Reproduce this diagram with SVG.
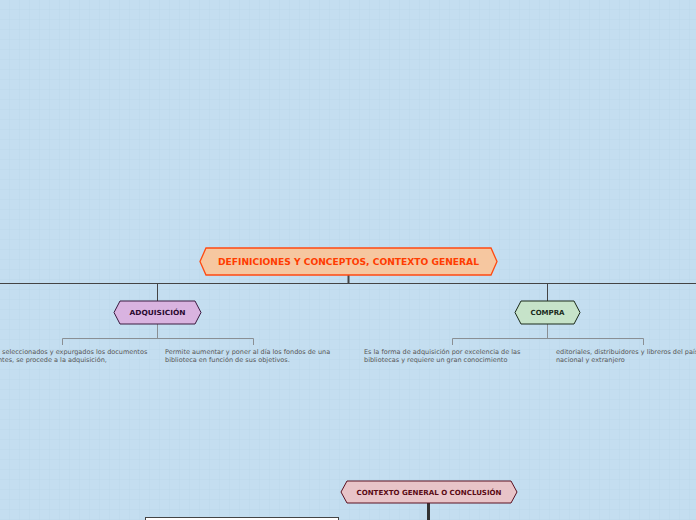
<svg xmlns="http://www.w3.org/2000/svg" width="696" height="520" viewBox="0 0 696 520">
<defs>
<pattern id="g" width="10" height="10" patternUnits="userSpaceOnUse">
<path d="M10 0V10H0" fill="none" stroke="#b3d2ea" stroke-width="0.6"/>
</pattern>
<style>
.t{font-family:"DejaVu Sans",sans-serif;font-weight:bold;text-anchor:middle}
.d{font-family:"DejaVu Sans",sans-serif;font-size:6.5px;fill:#555}
.c{fill:none;stroke:#444;stroke-width:1}
.b{fill:none;stroke:#8a8f94;stroke-width:1}
</style>
</defs>
<rect width="696" height="520" fill="#c4def0"/>
<rect width="696" height="520" fill="url(#g)"/>
<g id="connectors">
<path class="c" d="M0 283.5H696"/>
<path d="M348.5 275V283" stroke="#444" stroke-width="2"/>
<path class="c" d="M157.5 283V301M547.5 283V301"/>
<path class="b" d="M157.5 324V338.5M62.5 345V338.5H253.5V345"/>
<path class="b" d="M547.5 324V338.5M452.5 345V338.5H643.5V345"/>
<path d="M428.5 503V520" stroke="#333" stroke-width="3"/>
</g>
<g id="main">
<polygon points="206,248 491,248 497,261.5 491,275 206,275 200,261.5" fill="#f6c7a0" stroke="#ff4a10" stroke-width="1.3"/>
<text class="t" x="348.5" y="264.5" font-size="8.6" fill="#ff3c00" textLength="261" lengthAdjust="spacingAndGlyphs">DEFINICIONES Y CONCEPTOS, CONTEXTO GENERAL</text>
</g>
<g id="adquisicion">
<polygon points="120,301 195,301 201,312.5 195,324 120,324 114,312.5" fill="#d9b3e0" stroke="#3a1a40" stroke-width="1"/>
<text class="t" x="157.5" y="315" font-size="7" fill="#2a0a30" textLength="56" lengthAdjust="spacingAndGlyphs">ADQUISICIÓN</text>
</g>
<g id="compra">
<polygon points="521,301 574,301 580,312.5 574,324 521,324 515,312.5" fill="#c6e3c9" stroke="#1a2a1a" stroke-width="1"/>
<text class="t" x="547.5" y="315" font-size="7" fill="#1a2a1a">COMPRA</text>
</g>
<g id="adq-text1">
<text class="d" x="2" y="354">seleccionados y expurgados los documentos</text>
<text class="d" x="-2" y="362">ntes, se procede a la adquisición,</text>
</g>
<g id="adq-text2">
<text class="d" x="165" y="354">Permite aumentar y poner al día los fondos de una</text>
<text class="d" x="165" y="362">biblioteca en función de sus objetivos.</text>
</g>
<g id="compra-text1">
<text class="d" x="364" y="354">Es la forma de adquisición por excelencia de las</text>
<text class="d" x="364" y="362">bibliotecas y requiere un gran conocimiento</text>
</g>
<g id="compra-text2">
<text class="d" x="556" y="354">editoriales, distribuidores y libreros del país</text>
<text class="d" x="556" y="362">nacional y extranjero</text>
</g>
<g id="contexto">
<polygon points="347,481 511,481 517,492 511,503 347,503 341,492" fill="#e8c4c8" stroke="#5a1020" stroke-width="1"/>
<text class="t" x="429" y="494.5" font-size="7" fill="#5a0a14" textLength="145" lengthAdjust="spacingAndGlyphs">CONTEXTO GENERAL O CONCLUSIÓN</text>
</g>
<g id="box">
<rect x="145.5" y="517.5" width="193" height="10" fill="#fff" stroke="#444"/>
</g>
</svg>
